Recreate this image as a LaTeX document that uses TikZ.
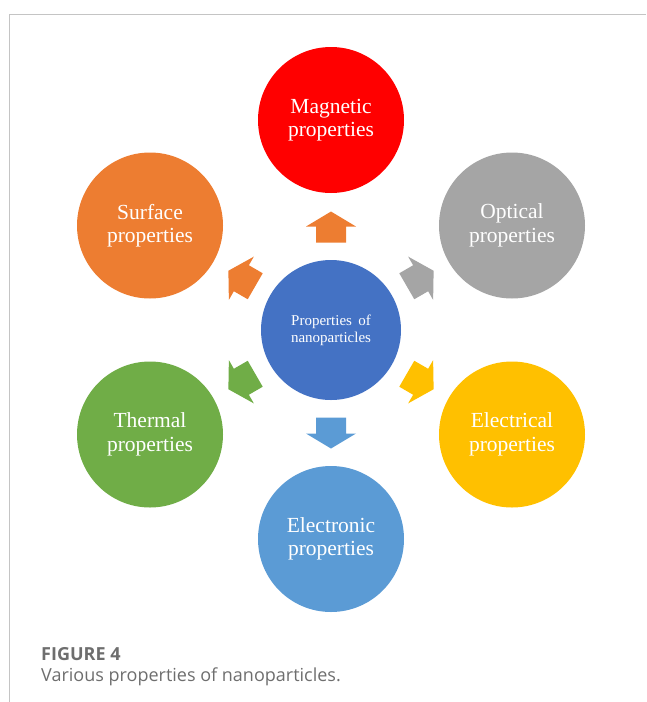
\documentclass[tikz,border=0pt]{standalone}
\usepackage{fontspec}
\setmainfont{Liberation Serif}
\newfontfamily\capfont[Ligatures=NoCommon]{Open Sans}
\usetikzlibrary{calc}
\definecolor{cRed}{HTML}{FF0000}
\definecolor{cOrange}{HTML}{ED7D31}
\definecolor{cGray}{HTML}{A5A5A5}
\definecolor{cBlue}{HTML}{4472C4}
\definecolor{cGreen}{HTML}{70AD47}
\definecolor{cYellow}{HTML}{FFC000}
\definecolor{cLBlue}{HTML}{5B9BD5}
\definecolor{cFrame}{HTML}{C4C4C4}
\definecolor{cCap}{HTML}{6E6E6E}
\begin{document}
\begin{tikzpicture}[x=1pt,y=1pt,
  prop/.style={circle,minimum size=146pt,inner sep=0pt,text=white,align=center,
    font=\fontsize{21.5}{23.5}\selectfont},
  hub/.style={circle,minimum size=140pt,inner sep=0pt,text=white,align=center,fill=cBlue,
    font=\fontsize{15}{17}\selectfont},
  captext/.style={anchor=base west,inner sep=0pt,text=cCap},
  blockarrow/.pic={\fill[pic actions] (-15.5,-15) -- (0.5,-15) -- (0.5,-25) -- (15.5,0) -- (0.5,25) -- (0.5,15) -- (-15.5,15) -- cycle;}
]
\useasboundingbox (0,0) rectangle (646,-702);
\draw[cFrame,line width=1pt] (646,-14) -- (9,-14) -- (9,-702);
\node[hub] (C) at (331,-330) {Properties\, of\\nanoparticles};
\node[prop,fill=cRed]    (mag) at ($(C)+(90:210)$)  {Magnetic\\properties};
\node[prop,fill=cOrange] (sur) at ($(C)+(150:209)$) {Surface\\properties};
\node[prop,fill=cGray]   (opt) at ($(C)+(30:209)$)  {Optical\\properties};
\node[prop,fill=cGreen]  (the) at ($(C)+(210:209)$) {Thermal\\properties};
\node[prop,fill=cYellow] (ele) at ($(C)+(330:209)$) {Electrical\\properties};
\node[prop,fill=cLBlue]  (eln) at ($(C)+(270:209)$) {Electronic\\properties};
\foreach \ang/\col in {90/cOrange,150/cOrange,30/cGray,210/cGreen,330/cYellow,270/cLBlue}{
  \pic[fill=\col,rotate=\ang] at ($(C)+(\ang:103)$) {blockarrow};
}
\node[captext,font=\capfont\bfseries\fontsize{18}{20}\selectfont] (fig) at (41,-660) {FIGURE 4};
\node[captext,font=\capfont\fontsize{18}{20}\selectfont] (cap) at (41,-681) {Various properties of nanoparticles.};
\end{tikzpicture}
\end{document}
